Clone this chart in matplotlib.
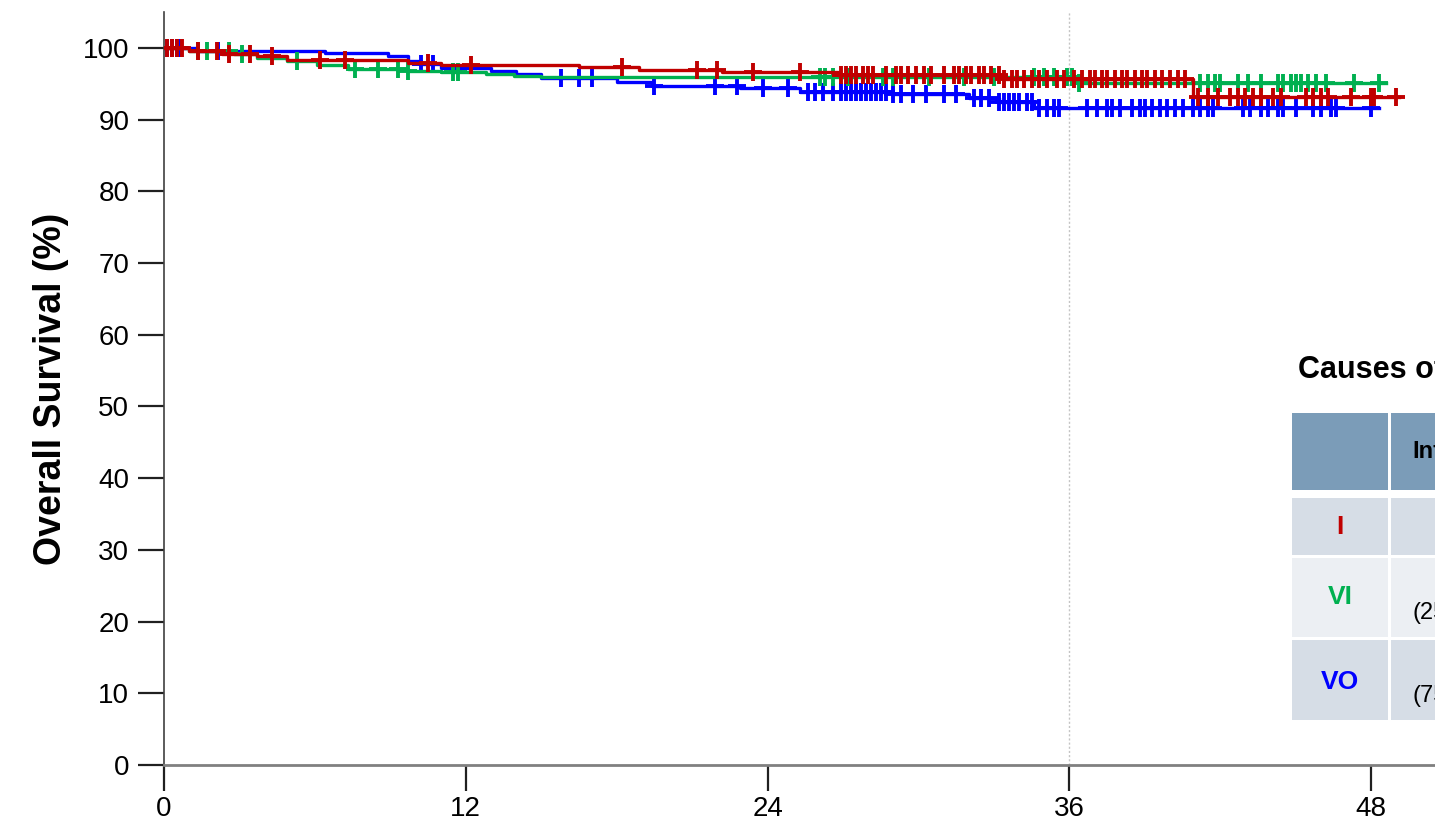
import numpy as np
import matplotlib.pyplot as plt
import matplotlib.patches as mpatches

plt.rcParams['font.family'] = ['Liberation Sans', 'DejaVu Sans']

# Kaplan-Meier step curves: time (months) where the curve drops, survival (%) after the drop
i_times = [0, 1.0, 2.3, 3.7, 4.9, 9.7, 11.0, 16.5, 18.9, 22.2, 26.8, 33.4, 40.9]
i_surv = [100, 99.6, 99.2, 98.8, 98.3, 97.9, 97.6, 97.3, 96.9, 96.6, 96.2, 95.6, 93.2]
i_end = 49.1
i_censor = [0.1, 0.3, 0.5, 0.7, 1.35, 2.1, 2.6, 3.4, 4.3, 6.2, 7.2, 10.5, 12.2,
            18.2, 21.2, 22.0, 23.4, 25.3, 26.9, 27.1, 27.3, 27.5, 27.8, 28.0, 28.2,
            28.7, 29.1, 29.3, 29.6, 29.9, 30.2, 30.5, 31.0, 31.4, 31.6, 31.9, 32.1,
            32.4, 32.6, 32.9, 33.2, 33.4, 33.7, 33.9, 34.2, 34.5, 34.8, 35.1, 35.5,
            35.8, 36.2, 36.5, 36.8, 37.0, 37.3, 37.5, 37.8, 38.1, 38.3, 38.6, 38.9,
            39.1, 39.4, 39.7, 40.0, 40.3, 40.6, 41.1, 41.5, 41.9, 42.4, 42.7, 43.0,
            43.3, 43.6, 44.1, 44.4, 45.4, 45.7, 46.0, 46.3, 47.2, 48.0, 48.1, 49.0]

vi_times = [0, 1.0, 2.8, 3.7, 4.9, 6.1, 7.3, 9.7, 11.0, 12.8, 13.9, 15.0, 36.3]
vi_surv = [100, 99.6, 99.1, 98.6, 98.1, 97.6, 97.0, 96.8, 96.6, 96.3, 96.1, 96.0, 95.1]
vi_end = 48.6
vi_censor = [1.35, 1.7, 2.6, 3.1, 5.3, 7.6, 8.5, 9.3, 9.7, 11.5, 11.7,
             26.1, 26.3, 26.6, 27.2, 28.6, 29.0, 30.4, 31.8, 33.0, 34.6, 35.0, 35.4,
             35.9, 36.1, 36.4, 41.2, 41.5, 41.8, 42.0, 42.7, 43.1, 43.6, 44.3, 44.5,
             44.8, 45.0, 45.2, 45.5, 45.8, 46.2, 47.3, 48.3]

vo_times = [0, 1.3, 6.4, 8.9, 9.7, 10.2, 11.0, 13.0, 14.0, 15.0, 18.0, 19.4, 22.9,
            25.3, 29.0, 32.0, 33.2, 34.6]
vo_surv = [100, 99.6, 99.3, 98.8, 98.2, 97.7, 97.2, 96.8, 96.4, 95.8, 95.2, 94.7,
           94.4, 93.9, 93.5, 93.0, 92.4, 91.6]
vo_end = 48.3
vo_censor = [0.1, 0.3, 0.5, 0.65, 2.15, 10.2, 10.7, 15.8, 16.5, 17.0, 19.5, 21.9,
             22.8, 23.8, 24.8, 25.6, 25.9, 26.2, 26.6, 26.9, 27.1, 27.3, 27.5, 27.7,
             27.9, 28.1, 28.3, 28.5, 28.7, 29.0, 29.3, 29.8, 30.3, 31.0, 31.5, 32.2,
             32.5, 32.8, 33.2, 33.4, 33.6, 33.8, 34.0, 34.3, 34.5, 34.8, 35.1, 35.4,
             35.6, 36.7, 37.1, 37.5, 37.7, 38.0, 38.5, 38.8, 39.0, 39.3, 39.6, 39.9,
             40.2, 40.5, 40.9, 41.2, 41.5, 41.7, 42.9, 43.2, 43.6, 43.9, 44.3, 44.5,
             45.0, 45.7, 46.0, 46.4, 46.6, 48.0]

groups = ['I', 'VI', 'VO']
group_colors = ['#c00000', '#00b050', '#0000ff']

x_ticks = [0, 12, 24, 36, 48]
y_ticks = list(range(0, 101, 10))

# table (cropped on the right in the reference)
table_title = 'Causes of Death'
table_header = ['', 'Infection']
table_rows = ['I', 'VI', 'VO']
table_second_line = ['', '(25.0%)', '(75.0%)']


def draw_km(ax, times, surv, end, censor, color):
    t = np.array(times + [end])
    s = np.array(surv + [surv[-1]])
    ax.step(t, s, where='post', color=color, lw=2.4, zorder=3)
    idx = np.searchsorted(np.array(times), np.array(censor), side='right') - 1
    ax.plot(censor, np.array(surv)[idx], ls='none', marker='+', color=color,
            ms=13, mew=2.8, zorder=3)


fig = plt.figure(figsize=(14.35, 8.27), dpi=100)
ax = fig.add_axes([164 / 1435, 62 / 827, 1 - 164 / 1435, (765 - 12) / 827])

draw_km(ax, vo_times, vo_surv, vo_end, vo_censor, group_colors[2])
draw_km(ax, vi_times, vi_surv, vi_end, vi_censor, group_colors[1])
draw_km(ax, i_times, i_surv, i_end, i_censor, group_colors[0])

ax.axvline(36, color='#c4c4c4', lw=1, ls=(0, (1.5, 1.5)), zorder=1)

ax.set_xlim(0, (1435 - 164) / 25.15)
ax.set_ylim(0, 105)
ax.set_xticks(x_ticks)
ax.set_yticks(y_ticks)
ax.tick_params(axis='both', labelsize=20, length=19, width=1.6, color='#202020')
ax.tick_params(axis='x', pad=3)
ax.tick_params(axis='y', pad=6)
for sp in ['top', 'right']:
    ax.spines[sp].set_visible(False)
ax.spines['left'].set_color('#404040')
ax.spines['left'].set_linewidth(1.2)
ax.spines['bottom'].set_color('#808080')
ax.spines['bottom'].set_linewidth(2)
ax.set_ylabel('Overall Survival (%)', fontsize=27, fontweight='bold', labelpad=10)

# overlay in pixel coordinates for the table
ov = fig.add_axes([0, 0, 1, 1], zorder=5)
ov.set_xlim(0, 1435)
ov.set_ylim(827, 0)
ov.axis('off')
ov.patch.set_alpha(0)

ov.text(1298, 370, table_title, fontsize=22, fontweight='bold', va='center', ha='left')

col_x = [(1292, 1388), (1391, 1600)]
row_y = [(413, 490), (498, 555), (558, 637), (640, 720)]
row_fill = ['#7b9cb8', '#d6dde6', '#eceff3', '#d6dde6']
for r, (y0, y1) in enumerate(row_y):
    for x0, x1 in col_x:
        ov.add_patch(mpatches.Rectangle((x0, y0), x1 - x0, y1 - y0,
                                        facecolor=row_fill[r], edgecolor='none'))

ov.text(1412, 452, table_header[1], fontsize=17, fontweight='bold', va='center', ha='left')
row_label_y = [527, 597, 682]
for name, color, yy in zip(table_rows, group_colors, row_label_y):
    ov.text(1340, yy, name, color=color, fontsize=19, fontweight='bold',
            ha='center', va='center')
second_y = [0, 613, 696]
for txt, yy in zip(table_second_line, second_y):
    if txt:
        ov.text(1412, yy, txt, fontsize=17, ha='left', va='center')

fig.savefig('out.png', dpi=100)
